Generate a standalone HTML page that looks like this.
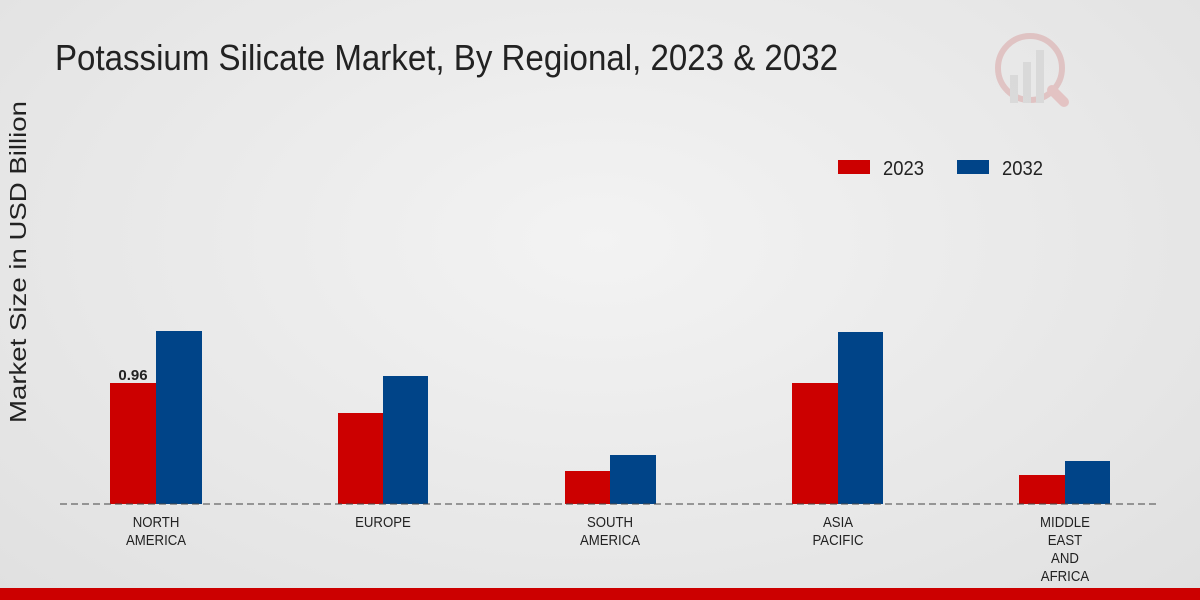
<!DOCTYPE html>
<html><head><meta charset="utf-8"><style>
html,body{margin:0;padding:0}
body{width:1200px;height:600px;overflow:hidden;background:radial-gradient(ellipse at 50% 40%,#f3f3f3 0%,#e6e6e6 70%,#e0e0e0 100%);font-family:"Liberation Sans",sans-serif}
</style></head><body>
<svg width="1200" height="600" xmlns="http://www.w3.org/2000/svg" style="position:absolute;left:0;top:0">
<text x="55" y="70" font-size="36" fill="#222" textLength="783" lengthAdjust="spacingAndGlyphs" font-family="Liberation Sans, sans-serif">Potassium Silicate Market, By Regional, 2023 &amp; 2032</text>
<text transform="translate(26,262) rotate(-90)" text-anchor="middle" font-size="23" fill="#222" textLength="322" lengthAdjust="spacingAndGlyphs">Market Size in USD Billion</text>
<g opacity="0.5">
<circle cx="1030" cy="68" r="32" fill="none" stroke="#d9a0a0" stroke-width="6"/>
<rect x="1010" y="75" width="8" height="28" fill="#ccc"/><rect x="1023" y="62" width="8" height="41" fill="#ccc"/><rect x="1036" y="50" width="8" height="53" fill="#ccc"/>
<line x1="1052" y1="90" x2="1064" y2="102" stroke="#e0a0a0" stroke-width="10" stroke-linecap="round"/>
</g>
<rect x="838" y="160" width="32" height="14" fill="#cc0000"/>
<text x="883" y="175" font-size="20" fill="#222" textLength="41" lengthAdjust="spacingAndGlyphs">2023</text>
<rect x="957" y="160" width="32" height="14" fill="#004488"/>
<text x="1002" y="175" font-size="20" fill="#222" textLength="41" lengthAdjust="spacingAndGlyphs">2032</text>
<g fill="#cc0000">
<rect x="110" y="383" width="46" height="121"/><rect x="338" y="413" width="45" height="91"/><rect x="565" y="471" width="45" height="33"/><rect x="792" y="383" width="46" height="121"/><rect x="1019" y="475" width="46" height="29"/>
</g>
<g fill="#004488">
<rect x="156" y="331" width="46" height="173"/><rect x="383" y="376" width="45" height="128"/><rect x="610" y="455" width="46" height="49"/><rect x="838" y="332" width="45" height="172"/><rect x="1065" y="461" width="45" height="43"/>
</g>
<text x="133" y="380" text-anchor="middle" font-size="15" font-weight="bold" fill="#222">0.96</text>
<line x1="60" y1="504" x2="1160" y2="504" stroke="#444" stroke-width="1" stroke-dasharray="7,4"/>
<g font-size="15" fill="#222" text-anchor="middle" transform="scale(0.88,1)">
<text x="177.3" y="527">NORTH</text><text x="177.3" y="545">AMERICA</text>
<text x="435.2" y="527">EUROPE</text>
<text x="693.2" y="527">SOUTH</text><text x="693.2" y="545">AMERICA</text>
<text x="952.3" y="527">ASIA</text><text x="952.3" y="545">PACIFIC</text>
<text x="1210.2" y="527">MIDDLE</text><text x="1210.2" y="545">EAST</text><text x="1210.2" y="563">AND</text><text x="1210.2" y="581">AFRICA</text>
</g>
<rect x="0" y="588" width="1200" height="12" fill="#cc0000"/>
</svg>
</body></html>
